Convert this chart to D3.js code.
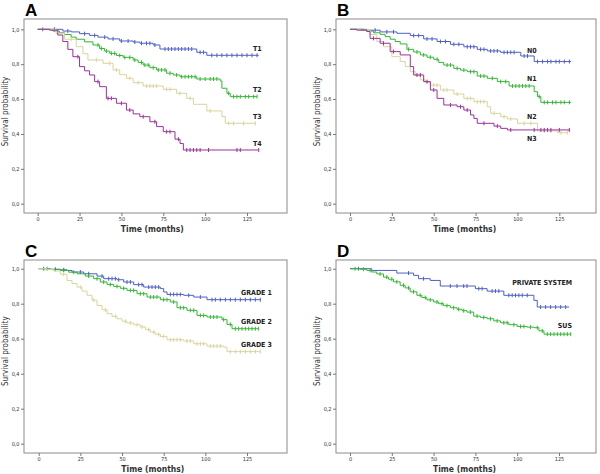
<!DOCTYPE html>
<html><head><meta charset="utf-8">
<script src="https://cdn.jsdelivr.net/npm/d3@7"></script>
<style>
body{margin:0;background:#fff;}
svg{display:block;}
</style></head>
<body>
<svg id="chart" width="600" height="474"></svg>
<script>
// ---------- DATA ----------
const panelLetters = ["A", "B", "C", "D"];
const xTicks = [0, 25, 50, 75, 100, 125];
const yTicks = [0, 0.2, 0.4, 0.6, 0.8, 1.0];
const yTickLabels = ["0,0", "0,2", "0,4", "0,6", "0,8", "1,0"];
const xTitle = "Time (months)";
const yTitle = "Survival probability";

// Panel A - T stage
const t1Times = [0, 15, 20, 25, 31, 36, 42, 49, 57, 61, 69, 73, 95, 101];
const t1Surv  = [1, 0.99, 0.985, 0.975, 0.965, 0.955, 0.945, 0.933, 0.927, 0.92, 0.91, 0.887, 0.868, 0.851];
const t1Censor = [3, 10, 18, 28, 34, 40, 45, 50, 54, 58, 62, 65, 67, 70, 76, 78, 80, 82, 84, 86, 88, 90, 92, 97, 99, 104, 107, 110, 113, 116, 119, 122, 125, 128, 131];
const t2Times = [0, 9, 13, 16, 20, 23, 28, 33, 37, 40, 43, 47, 51, 57, 60, 63, 67, 71, 77, 81, 85, 95, 109, 110, 113, 115];
const t2Surv  = [1, 0.99, 0.98, 0.97, 0.955, 0.943, 0.928, 0.91, 0.89, 0.875, 0.862, 0.85, 0.839, 0.824, 0.81, 0.795, 0.78, 0.767, 0.748, 0.738, 0.728, 0.715, 0.704, 0.662, 0.633, 0.614];
const t2Censor = [36, 38, 41, 44, 46, 49, 52, 55, 58, 62, 64, 66, 69, 72, 74, 76, 79, 83, 86, 88, 90, 92, 94, 97, 100, 103, 105, 107, 114, 117, 119, 121, 124, 126, 129, 131];
const t3Times = [0, 11, 16, 23, 27, 30, 39, 45, 49, 53, 57, 63, 75, 83, 89, 93, 101, 110, 112];
const t3Surv  = [1, 0.977, 0.943, 0.9, 0.86, 0.824, 0.805, 0.767, 0.74, 0.719, 0.694, 0.675, 0.656, 0.633, 0.604, 0.57, 0.532, 0.5, 0.461];
const t3Censor = [20, 35, 43, 47, 55, 60, 65, 67, 69, 71, 77, 79, 85, 91, 103, 114, 117, 123, 130];
const t4Times = [0, 7, 12, 15, 18, 21, 25, 28, 31, 34, 37, 41, 47, 53, 57, 61, 67, 71, 75, 82, 85, 87];
const t4Surv  = [1, 0.995, 0.967, 0.93, 0.885, 0.843, 0.786, 0.762, 0.738, 0.7, 0.671, 0.604, 0.576, 0.537, 0.515, 0.499, 0.47, 0.442, 0.413, 0.37, 0.345, 0.308];
const t4Censor = [24, 36, 42, 44, 50, 55, 63, 70, 77, 79, 84, 89, 91, 93, 95, 97, 102, 119, 121, 132];

// Panel B - N stage
const n0Times = [0, 8, 18, 28, 36, 44, 52, 60, 68, 76, 82, 90, 102, 110];
const n0Surv  = [1, 0.995, 0.985, 0.977, 0.964, 0.945, 0.93, 0.914, 0.9, 0.885, 0.876, 0.868, 0.847, 0.815];
const n0Censor = [15, 22, 26, 38, 41, 46, 49, 54, 57, 62, 65, 70, 72, 74, 78, 80, 84, 86, 88, 92, 94, 96, 98, 104, 106, 112, 115, 118, 120, 123, 125, 128, 131];
const n1Times = [0, 10, 14, 18, 21, 24, 27, 30, 34, 38, 42, 46, 50, 53, 56, 62, 66, 70, 76, 82, 88, 95, 110, 112, 114];
const n1Surv  = [1, 0.99, 0.98, 0.971, 0.958, 0.943, 0.93, 0.916, 0.885, 0.87, 0.853, 0.84, 0.828, 0.81, 0.795, 0.776, 0.766, 0.757, 0.732, 0.719, 0.7, 0.675, 0.642, 0.614, 0.581];
const n1Censor = [35, 40, 44, 48, 52, 58, 60, 64, 68, 72, 74, 78, 80, 85, 90, 93, 97, 99, 101, 103, 105, 107, 113, 116, 118, 121, 123, 126, 128, 131];
const n2Times = [0, 6, 12, 16, 20, 25, 30, 33, 36, 39, 42, 45, 48, 54, 62, 68, 74, 82, 84, 90, 94, 100, 112, 124];
const n2Surv  = [1, 0.995, 0.97, 0.93, 0.9, 0.843, 0.815, 0.786, 0.757, 0.735, 0.71, 0.695, 0.68, 0.652, 0.629, 0.604, 0.585, 0.556, 0.518, 0.499, 0.486, 0.461, 0.417, 0.407];
const n2Censor = [44, 50, 52, 56, 58, 64, 70, 72, 76, 78, 80, 86, 92, 96, 104, 108, 116, 120, 126, 130];
const n3Times = [0, 4, 10, 12, 18, 24, 30, 36, 38, 44, 48, 52, 56, 64, 68, 72, 74, 76, 86, 90, 94];
const n3Surv  = [1, 0.995, 0.987, 0.948, 0.92, 0.872, 0.853, 0.786, 0.738, 0.7, 0.652, 0.604, 0.566, 0.556, 0.537, 0.509, 0.489, 0.461, 0.445, 0.432, 0.423];
const n3Censor = [14, 20, 26, 40, 42, 46, 50, 60, 66, 70, 80, 88, 96, 110, 114, 116, 118, 120, 125, 131];

// Panel C - histological grade
const g1Times = [0, 5, 13, 17, 20, 27, 35, 39, 47, 51, 57, 63, 73, 75, 77, 87, 93, 101];
const g1Surv  = [1, 0.997, 0.994, 0.99, 0.981, 0.971, 0.958, 0.943, 0.937, 0.924, 0.909, 0.895, 0.886, 0.867, 0.853, 0.848, 0.838, 0.823];
const g1Censor = [3, 10, 15, 25, 30, 38, 42, 44, 46, 48, 53, 55, 60, 62, 66, 68, 70, 72, 79, 81, 83, 85, 90, 97, 104, 106, 109, 112, 115, 118, 121, 124, 127, 130, 133];
const g2Times = [0, 7, 13, 18, 23, 28, 33, 37, 41, 45, 49, 53, 59, 65, 73, 79, 83, 89, 95, 101, 110, 113, 116];
const g2Surv  = [1, 0.995, 0.99, 0.98, 0.971, 0.958, 0.943, 0.924, 0.91, 0.899, 0.888, 0.876, 0.857, 0.838, 0.823, 0.81, 0.777, 0.762, 0.733, 0.724, 0.709, 0.682, 0.657];
const g2Censor = [5, 15, 21, 30, 35, 39, 43, 47, 51, 55, 57, 61, 63, 67, 69, 71, 75, 77, 81, 85, 87, 91, 93, 97, 99, 103, 105, 107, 111, 115, 118, 120, 122, 124, 126, 128, 130, 132];
const g3Times = [0, 5, 9, 13, 17, 20, 23, 26, 29, 32, 35, 38, 41, 44, 47, 50, 53, 57, 61, 64, 67, 70, 73, 77, 87, 93, 101, 111, 113];
const g3Surv  = [1, 0.995, 0.987, 0.968, 0.933, 0.915, 0.895, 0.872, 0.848, 0.82, 0.79, 0.765, 0.743, 0.728, 0.714, 0.7, 0.69, 0.68, 0.667, 0.652, 0.638, 0.625, 0.613, 0.594, 0.587, 0.571, 0.558, 0.552, 0.526];
const g3Censor = [15, 25, 33, 40, 46, 52, 55, 59, 62, 66, 69, 72, 75, 79, 81, 83, 85, 89, 91, 95, 97, 99, 103, 105, 107, 109, 115, 118, 121, 124, 127, 130, 133];

// Panel D - health system
const privTimes = [0, 13, 28, 38, 41, 48, 54, 75, 82, 92, 110, 112];
const privSurv  = [1, 0.99, 0.975, 0.962, 0.943, 0.933, 0.901, 0.886, 0.872, 0.848, 0.819, 0.781];
const privCensor = [5, 35, 44, 60, 64, 68, 70, 77, 79, 85, 87, 89, 95, 97, 99, 101, 103, 106, 114, 117, 120, 123, 126, 129];
const susTimes = [0, 6, 10, 13, 16, 20, 23, 26, 30, 33, 36, 40, 43, 46, 50, 53, 56, 60, 64, 67, 70, 74, 78, 82, 86, 90, 95, 100, 106, 110, 113, 116];
const susSurv  = [1, 0.997, 0.99, 0.981, 0.97, 0.952, 0.94, 0.925, 0.905, 0.89, 0.868, 0.848, 0.835, 0.822, 0.81, 0.8, 0.789, 0.777, 0.768, 0.76, 0.752, 0.729, 0.722, 0.714, 0.702, 0.691, 0.68, 0.67, 0.666, 0.663, 0.645, 0.626];
const susCensor = [3, 8, 12, 18, 22, 25, 28, 32, 35, 38, 42, 45, 48, 52, 55, 58, 62, 65, 68, 72, 76, 80, 84, 88, 92, 94, 98, 102, 104, 108, 112, 115, 118, 120, 122, 124, 126, 128, 130, 132];

const seriesNames = {
  A: ["T1", "T2", "T3", "T4"],
  B: ["N0", "N1", "N2", "N3"],
  C: ["GRADE 1", "GRADE 2", "GRADE 3"],
  D: ["PRIVATE SYSTEM", "SUS"]
};
const seriesEnd = {
  A: [132, 131, 130, 132],
  B: [132, 132, 130, 131],
  C: [133, 132, 133],
  D: [131, 132]
};

// ---------- STYLE / LAYOUT ----------
const BLUE = "#4d5fc4", GREEN = "#33b633", YELLOW = "#d9d49c", MAGENTA = "#9a329a";
const FONT = "'DejaVu Sans Condensed','Liberation Sans Narrow','DejaVu Sans',sans-serif";

const panels = [
  { key: "A", frame: [24, 19, 287, 213], x0: 37.7, x125: 247, y1: 29.3, y0: 203.7,
    series: [[t1Times, t1Surv, t1Censor, BLUE], [t2Times, t2Surv, t2Censor, GREEN], [t3Times, t3Surv, t3Censor, YELLOW], [t4Times, t4Surv, t4Censor, MAGENTA]],
    labelPos: [[253, 51], [253, 92], [253, 119], [253, 146]], labelAnchor: "start" },
  { key: "B", frame: [336, 19, 596, 213], x0: 350, x125: 559.3, y1: 29.3, y0: 203.7,
    series: [[n0Times, n0Surv, n0Censor, BLUE], [n1Times, n1Surv, n1Censor, GREEN], [n2Times, n2Surv, n2Censor, YELLOW], [n3Times, n3Surv, n3Censor, MAGENTA]],
    labelPos: [[527, 53], [527, 81], [527, 119], [527, 141]], labelAnchor: "start" },
  { key: "C", frame: [24, 260, 287, 453], x0: 38.7, x125: 247, y1: 268.7, y0: 443.7,
    series: [[g1Times, g1Surv, g1Censor, BLUE], [g2Times, g2Surv, g2Censor, GREEN], [g3Times, g3Surv, g3Censor, YELLOW]],
    labelPos: [[241, 295], [241, 324], [241, 347]], labelAnchor: "start" },
  { key: "D", frame: [336, 260, 596, 453], x0: 350, x125: 559, y1: 268.7, y0: 443.7,
    series: [[privTimes, privSurv, privCensor, BLUE], [susTimes, susSurv, susCensor, GREEN]],
    labelPos: [[572, 285], [572, 328]], labelAnchor: "end" }
];

const svg = d3.select("#chart");

panels.forEach(p => {
  const [fx1, fy1, fx2, fy2] = p.frame;
  const x = d3.scaleLinear().domain([0, 125]).range([p.x0, p.x125]);
  const y = d3.scaleLinear().domain([0, 1]).range([p.y0, p.y1]);
  const g = svg.append("g");

  // frame
  g.append("rect").attr("x", fx1).attr("y", fy1).attr("width", fx2 - fx1).attr("height", fy2 - fy1)
    .attr("fill", "none").attr("stroke", "#8c8c8c").attr("stroke-width", 1);

  // x axis
  const xa = g.append("g").attr("transform", `translate(0,${fy2})`)
    .call(d3.axisBottom(x).tickValues(xTicks).tickSize(3).tickSizeOuter(0).tickPadding(1).tickFormat(d3.format("d")));
  xa.select(".domain").remove();
  xa.selectAll("line").attr("stroke", "#777");
  xa.selectAll("text").attr("font-family", FONT).attr("font-stretch", "condensed").attr("font-size", 5.5).attr("fill", "#333");

  // y axis
  const ya = g.append("g").attr("transform", `translate(${fx1},0)`)
    .call(d3.axisLeft(y).tickValues(yTicks).tickSize(3).tickSizeOuter(0).tickPadding(1.5).tickFormat((d, i) => yTickLabels[i]));
  ya.select(".domain").remove();
  ya.selectAll("line").attr("stroke", "#777");
  ya.selectAll("text").attr("font-family", FONT).attr("font-stretch", "condensed").attr("font-size", 5.5).attr("fill", "#333");

  // titles
  g.append("text").attr("x", (p.x0 + p.x125) / 2 + 10).attr("y", fy2 + 18.5)
    .attr("text-anchor", "middle").attr("font-family", FONT).attr("font-stretch", "condensed")
    .attr("font-size", 8.5).attr("font-weight", "bold")
    .attr("fill", "#333").text(xTitle);
  g.append("text").attr("transform", `translate(${fx1 - 16},${(p.y0 + p.y1) / 2 - 5}) rotate(-90)`)
    .attr("text-anchor", "middle").attr("font-family", FONT).attr("font-stretch", "condensed").attr("font-size", 8)
    .attr("fill", "#333").text(yTitle);

  // panel letter
  g.append("text").attr("x", fx1 + 1).attr("y", fy1 - 3).attr("font-family", "'Liberation Sans',Arial,sans-serif")
    .attr("font-size", 17).attr("font-weight", "bold").attr("fill", "#000").text(p.key);

  const line = d3.line().x(d => x(d[0])).y(d => y(d[1])).curve(d3.curveStepAfter);

  p.series.forEach((s, i) => {
    const [times, surv, cens, color] = s;
    const end = seriesEnd[p.key][i];
    const pts = times.map((t, j) => [t, surv[j]]);
    pts.push([end, surv[surv.length - 1]]);
    g.append("path").attr("d", line(pts)).attr("fill", "none").attr("stroke", color).attr("stroke-width", 1);
    const survAt = t => { let v = 1; for (let j = 0; j < times.length; j++) { if (times[j] <= t) v = surv[j]; } return v; };
    g.selectAll(null).data(cens).enter().append("line")
      .attr("x1", d => x(d)).attr("x2", d => x(d))
      .attr("y1", d => y(survAt(d)) - 2).attr("y2", d => y(survAt(d)) + 2)
      .attr("stroke", color).attr("stroke-width", 1);
  });

  // series labels
  seriesNames[p.key].forEach((name, i) => {
    g.append("text").attr("x", p.labelPos[i][0]).attr("y", p.labelPos[i][1])
      .attr("text-anchor", p.labelAnchor).attr("font-family", FONT).attr("font-stretch", "condensed")
      .attr("font-size", 7).attr("font-weight", "bold")
      .attr("fill", "#222").text(name);
  });
});
</script>
</body></html>
